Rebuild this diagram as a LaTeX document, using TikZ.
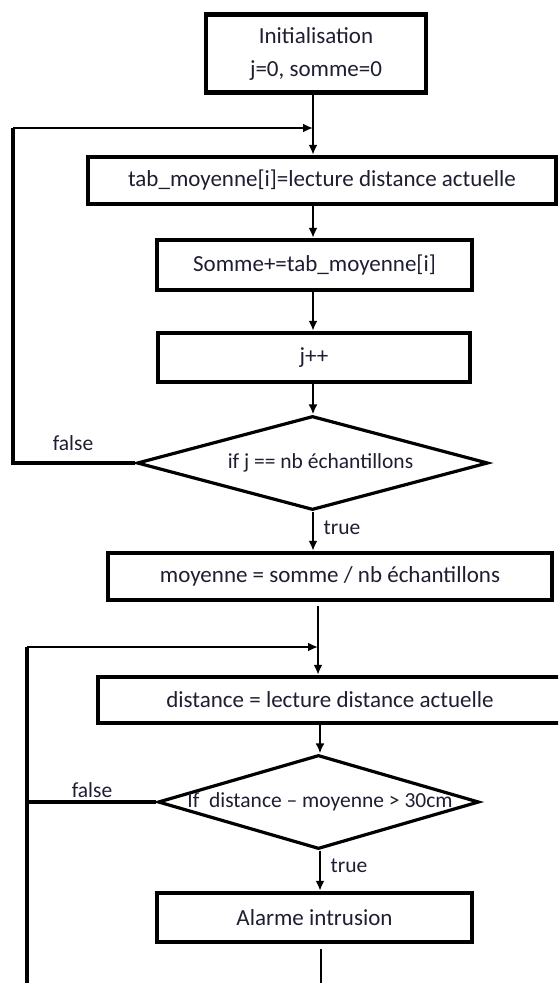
\documentclass[tikz,border=0pt]{standalone}
\usepackage{fontspec}
\setmainfont{Carlito}
\usetikzlibrary{shapes.geometric,arrows.meta}
\definecolor{txt}{RGB}{30,30,50}
\begin{document}
\begin{tikzpicture}[x=1pt,y=-1pt,
  box/.style={draw, line width=4.5pt, inner sep=0pt, text=txt, font=\fontsize{23}{33}\selectfont, align=center},
  dec/.style={draw, diamond, line width=3.2pt, inner sep=0pt, text=txt, font=\fontsize{21.5}{24}\selectfont},
  lbl/.style={text=txt, font=\fontsize{21.5}{24}\selectfont, inner sep=0pt},
  arr/.style={line width=2.4pt, -{Latex[length=10pt,width=9pt]}},
  ln/.style={line width=2.4pt},
  lnk/.style={line width=3.2pt}
]
\useasboundingbox (0,0) rectangle (558,983);
\begin{scope}
\clip (0,0) rectangle (558,983);
% nodes
\node[box, minimum width=220pt, minimum height=78pt] (init) at (316,53.5) {Initialisation\\j=0, somme=0};
\node[box, minimum width=468pt, minimum height=47pt] (tab) at (322,180.5) {tab\_moyenne[i]=lecture distance actuelle};
\node[box, minimum width=315pt, minimum height=50pt] (som) at (314.5,265) {Somme+=tab\_moyenne[i]};
\node[box, minimum width=312pt, minimum height=49pt] (jpp) at (314,357.5) {j++};
\node[dec, aspect=3.73, minimum width=351pt, minimum height=94pt] (d1) at (312.5,463) {\makebox[0pt][c]{\hspace{16pt}if j == nb échantillons}};
\node[box, minimum width=444pt, minimum height=47pt] (moy) at (330,576.5) {moyenne = somme / nb échantillons};
\node[box, minimum width=464pt, minimum height=46pt] (dist) at (330,700) {distance = lecture distance actuelle};
\node[dec, aspect=3.41, minimum width=321pt, minimum height=94pt] (d2) at (318.5,802) {\makebox[0pt][c]{\hspace{3pt}If\ \ distance – moyenne > 30cm}};
\node[box, minimum width=315pt, minimum height=49pt] (alarm) at (314.5,917.5) {Alarme intrusion};
% labels
\node[lbl] (f1) at (73,443) {false};
\node[lbl] (t1) at (342,528) {true};
\node[lbl] (f2) at (92,790) {false};
\node[lbl] (t2) at (349,866) {true};
% coordinates
\coordinate (xa) at (313,0);
\coordinate (xb) at (318,0);
\coordinate (xc) at (320,0);
\coordinate (xd) at (321,0);
\coordinate (j1) at (313,128);
\coordinate (l1a) at (13,463);
\coordinate (l1b) at (13,128);
\coordinate (j2) at (318,647);
\coordinate (l2a) at (27,802);
\coordinate (l2b) at (27,647);
\coordinate (l2c) at (27,990);
\coordinate (endc) at (321,990);
% connectors
\draw[arr] (init.south -| xa) -- (tab.north -| xa);
\draw[arr] (tab.south -| xa) -- (som.north -| xa);
\draw[arr] (som.south -| xa) -- (jpp.north -| xa);
\draw[arr] (jpp.south -| xa) -- (d1.north -| xa);
\draw[arr] (d1.south -| xa) -- (moy.north -| xa);
\draw[lnk] (d1.west) -- (l1a) -- (l1b);
\draw[arr] (l1b) -- (j1);
\draw[arr, shorten <=4pt] (moy.south -| xb) -- (dist.north -| xb);
\draw[arr] (l2b) -- (j2);
\draw[lnk] (l2c) -- (l2b);
\draw[lnk] (d2.west) -- (l2a);
\draw[arr] (dist.south -| xc) -- (d2.north -| xc);
\draw[arr] (d2.south -| xc) -- (alarm.north -| xc);
\draw[ln, shorten <=5pt] (alarm.south -| xd) -- (endc);
\end{scope}
\end{tikzpicture}
\end{document}
